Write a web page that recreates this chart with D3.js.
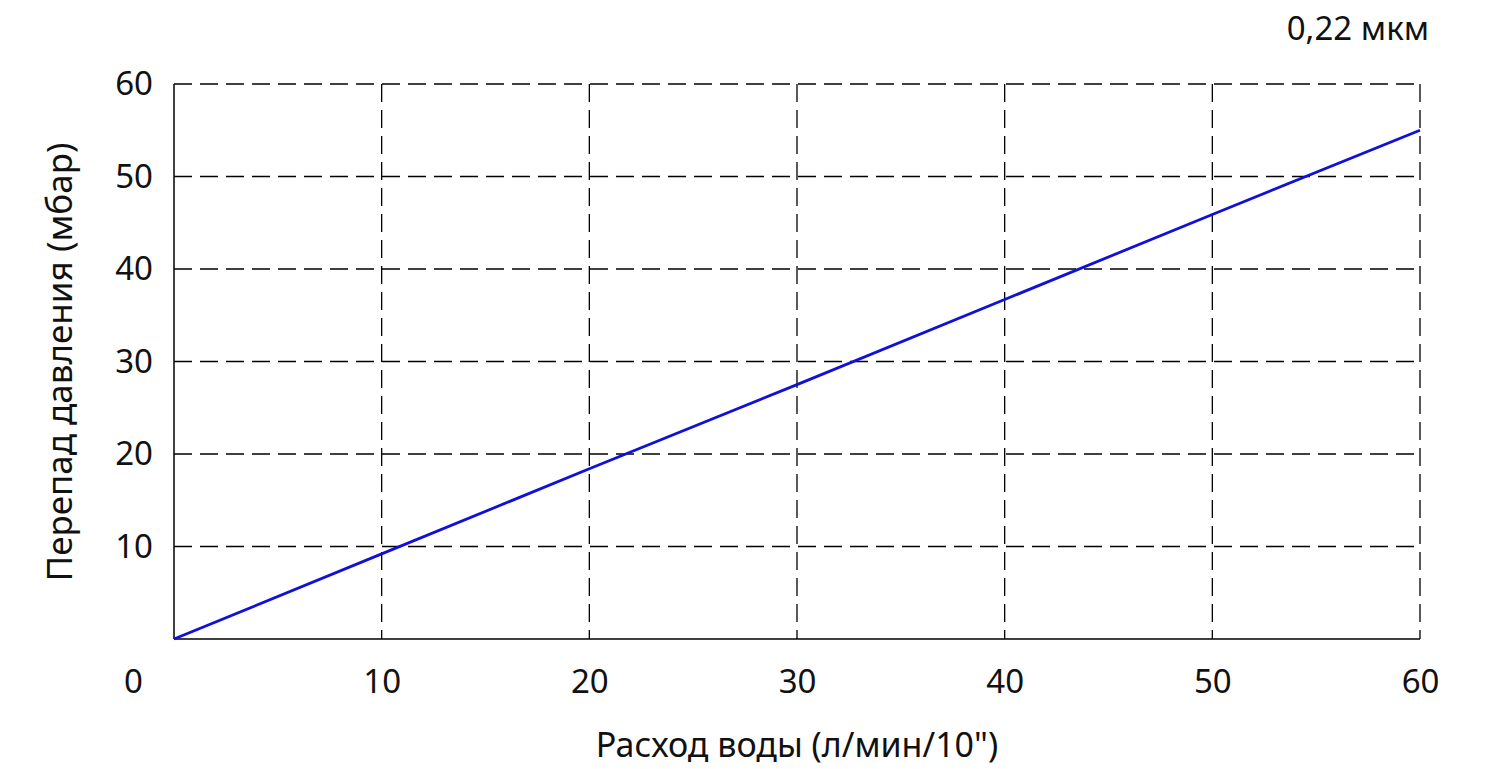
<!DOCTYPE html>
<html>
<head>
<meta charset="utf-8">
<script src="https://cdn.jsdelivr.net/npm/d3@7"></script>
<style>
  body { margin: 0; background: #fff; }
  text { font-family: "Noto Sans", sans-serif; fill: #111; }
</style>
</head>
<body>
<svg width="1505" height="769"></svg>
<script>
// данные графика
var flow = [0, 10, 20, 30, 40, 50, 60];
var dp = [0, 9.2, 18.4, 27.5, 36.7, 45.9, 55];
var xTicks = [0, 10, 20, 30, 40, 50, 60];
var yTicks = [10, 20, 30, 40, 50, 60];
var title = "0,22 мкм";
var xLabel = "Расход воды (л/мин/10\")";
var yLabel = "Перепад давления (мбар)";

var svg = d3.select("svg"),
    margin = {top: 84, right: 85, bottom: 130, left: 174},
    width = +svg.attr("width") - margin.left - margin.right,
    height = +svg.attr("height") - margin.top - margin.bottom,
    g = svg.append("g").attr("transform", "translate(" + margin.left + "," + margin.top + ")");

var x = d3.scaleLinear().domain([0, 60]).range([0, width]);
var y = d3.scaleLinear().domain([0, 60]).range([height, 0]);

// сетка пунктиром
g.append("g")
 .selectAll("line.gx")
 .data(xTicks.slice(1))
 .enter().append("line")
 .attr("x1", function(d) { return x(d); })
 .attr("x2", function(d) { return x(d); })
 .attr("y1", 0).attr("y2", height)
 .attr("stroke", "#000").attr("stroke-width", 1.3)
 .attr("stroke-dasharray", "18,8");

g.append("g")
 .selectAll("line.gy")
 .data(yTicks)
 .enter().append("line")
 .attr("y1", function(d) { return y(d); })
 .attr("y2", function(d) { return y(d); })
 .attr("x1", 0).attr("x2", width)
 .attr("stroke", "#000").attr("stroke-width", 1.3)
 .attr("stroke-dasharray", "18,8");

// оси сплошные слева и снизу
g.append("line").attr("x1", 0).attr("x2", 0).attr("y1", 0).attr("y2", height)
 .attr("stroke", "#000").attr("stroke-width", 1.5);
g.append("line").attr("x1", 0).attr("x2", width).attr("y1", height).attr("y2", height)
 .attr("stroke", "#000").attr("stroke-width", 1.5);

// подписи осей
var xAxis = g.append("g")
 .attr("transform", "translate(0," + height + ")")
 .call(d3.axisBottom(x).tickValues(xTicks).tickSize(0).tickPadding(31).tickFormat(d3.format("d")));
xAxis.select(".domain").remove();
xAxis.selectAll("text").style("font-size", "33px")
 .attr("dx", function(d) { return d === 0 ? -41 : 0; });

var yAxis = g.append("g")
 .call(d3.axisLeft(y).tickValues(yTicks).tickSize(0).tickPadding(21).tickFormat(d3.format("d")));
yAxis.select(".domain").remove();
yAxis.selectAll("text").style("font-size", "33px");

// линия
var line = d3.line()
 .x(function(d, i) { return x(flow[i]); })
 .y(function(d) { return y(d); });

g.append("path")
 .datum(dp)
 .attr("fill", "none")
 .attr("stroke", "#1010d8")
 .attr("stroke-width", 2.8)
 .attr("d", line);

svg.append("text")
 .attr("x", 1429).attr("y", 40)
 .attr("text-anchor", "end")
 .style("font-size", "33px")
 .text(title);

svg.append("text")
 .attr("x", 797).attr("y", 757)
 .attr("text-anchor", "middle")
 .style("font-size", "34px")
 .text(xLabel);

svg.append("text")
 .attr("transform", "translate(72,362) rotate(-90)")
 .attr("text-anchor", "middle")
 .style("font-size", "35px")
 .text(yLabel);
</script>
</body>
</html>
